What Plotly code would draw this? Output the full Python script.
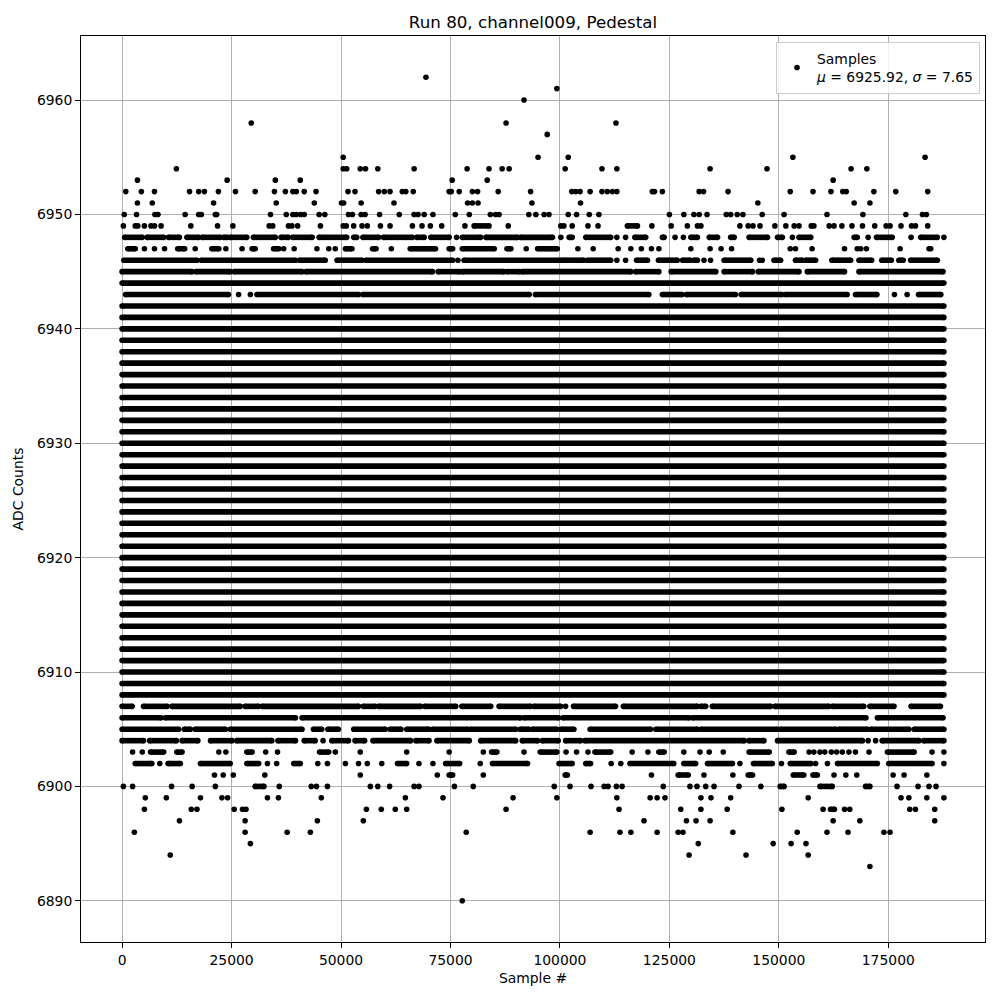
import plotly.graph_objects as go

# ---------------- data ----------------
n_samples = 187700          # number of samples in the run
mean_adc = 6925.92
sigma_adc = 7.65

x_ticks = [0, 25000, 50000, 75000, 100000, 125000, 150000, 175000]
y_ticks = [6890, 6900, 6910, 6920, 6930, 6940, 6950, 6960]

# ADC levels that are filled over the whole run
dense_levels = [6908, 6909, 6910, 6911, 6912, 6913, 6914, 6915, 6916, 6917,
                6918, 6919, 6920, 6921, 6922, 6923, 6924, 6925, 6926, 6927,
                6928, 6929, 6930, 6931, 6932, 6933, 6934, 6935, 6936, 6937,
                6938, 6939, 6940, 6941, 6942, 6944]

# Remaining levels: sample index in thousands.
# a single number = isolated sample, [a, b] = run of consecutive samples
row_6962 = [69.4]
row_6961 = [99.3]
row_6960 = [91.8]
row_6958 = [29.5, 87.7, 112.8]
row_6957 = [97.1]
row_6955 = [50.5, 95.0, 101.9, 153.2, 183.4]
row_6954 = [12.4, 50.5, 51.3, 54.4, 55.6, 58.4, 66.7, 78.8, 83.8, 86.8, 88.4,
            101.2, 109.6, 113.0, 134.3, 147.3, 166.5, 170.1]
row_6953 = [3.5, 24.0, 35.0, 40.7, 75.4, 83.4, 162.4]
row_6952 = [0.84, 4.4, 7.4, 15.4, 17.5, 18.8, 22.0, 25.9, 30.4, 34.8, 37.3, 39.0,
            39.8, 41.6, 44.3, 51.6, 53.2, 58.6, 59.9, 61.2, 64.0, 64.8, 66.5,
            74.7, 75.2, 77.0, 80.0, 81.2, 85.9, 93.3, 102.7, 103.6, 104.6, 106.9,
            109.6, 110.8, 112.0, 113.0, 121.1, 121.6, 123.4, 131.8, 132.8, 138.4,
            152.6, 157.8, 161.9, 164.6, 165.4, 171.7, 176.7, 184.0]
row_6951 = [3.5, 6.9, 20.9, 35.2, 43.9, 50.1, 50.6, 54.6, 62.1, 78.9, 80.0, 81.3,
            93.6, 104.7, 145.2, 167.2, 170.8]
row_6950 = [0.5, 3.3, 7.5, 8.2, 14.4, 17.5, 18.1, 21.3, 21.6, 33.9, 37.5, 39.0,
            39.8, 40.8, 41.6, 45.0, 46.3, 51.7, 52.6, 54.6, 55.5, 58.8, 63.3,
            66.7, 67.6, 69.0, 71.0, 76.1, 79.3, 84.1, 85.3, 86.1, 92.9, 94.5,
            96.4, 97.5, 101.9, 103.8, 106.7, 108.9, 125.0, 128.3, 130.6, 131.8,
            133.6, 138.0, 139.0, 140.5, 141.8, 146.2, 151.2, 161.0, 169.2, 179.0,
            182.8, 183.7]
row_6949 = [0.3, 3.0, 3.6, 5.1, 6.6, 7.4, 8.9, 15.7, 21.8, 25.3, 33.6, 34.4, 38.0,
            38.8, 40.1, 45.3, 50.5, 51.2, 52.9, 54.8, 56.0, 59.0, 61.2, 66.3,
            68.5, 70.4, 73.0, 78.3, [80.4, 83.8], 88.2, 100.2, 100.9, 102.8,
            106.4, 108.7, [115.4, 117.7], 121.0, 125.4, 129.1, 131.4, 132.2,
            141.1, 143.0, 144.1, 145.7, 149.1, 151.6, 153.5, 154.6, 157.4, 158.0,
            161.5, 162.6, 164.4, 166.7, 169.1, 171.9, 174.5, 175.4, 177.9, 180.3,
            181.2, 184.0]
row_6948 = [[0.6, 4.6], [5.7, 9.5], [10.6, 13.1], [14.8, 17.5], [18.3, 22.4],
            [23.2, 24.0], [24.7, 28.5], [30.0, 35.0], [36.3, 38.0], [39.0, 43.4],
            [45.0, 51.3], [52.9, 53.6], [55.0, 58.6], [59.7, 66.3], [67.3, 69.0],
            [70.5, 74.7], 76.4, [77.7, 81.9], [83.1, 90.3], [91.0, 98.3], 100.2,
            [102.1, 102.8], [105.9, 111.6], 113.0, 115.0, [117.1, 119.6],
            [123.4, 123.8], 126.3, 128.2, [129.9, 131.4], [134.1, 136.0],
            [139.0, 139.8], [143.2, 147.4], [149.7, 150.8], 153.1, [154.6, 157.3],
            [167.2, 167.9], 170.4, [172.3, 175.9], 180.2, [182.4, 186.2], 187.7]
row_6947 = [[1.3, 3.0], 5.1, 7.4, 9.7, [12.7, 14.3], 16.7, [20.5, 22.1], 23.7,
            27.4, [29.7, 30.4], [34.6, 35.8], 36.9, 39.3, 44.5, 47.2, 48.7,
            [51.0, 52.5], [57.2, 58.0], 61.5, [65.8, 71.6], [74.7, 75.5],
            [77.7, 85.0], [87.9, 88.8], 92.3, [94.9, 99.4], 104.1, 107.6, 113.3,
            116.2, 118.6, 120.9, 122.6, 129.9, 134.3, 136.8, 139.2, 152.6, 153.8,
            157.6, 165.0, 167.9, 168.7, 170.0, 177.7, 184.3, 184.7]
row_6946 = [[0.4, 17.1], [18.1, 39.6], [40.5, 46.4], [49.1, 54.8], [55.7, 75.5],
            76.7, [78.1, 100.6], [101.0, 105.5], [106.3, 111.6], 113.0, 115.0,
            [117.5, 120.0], [122.5, 126.8], [128.0, 129.8], [130.6, 131.4], 132.9,
            134.4, [137.5, 143.6], 145.6, 146.2, [148.9, 150.4], [153.8, 155.4],
            [156.1, 158.4], [162.1, 162.7], [163.2, 166.4], [168.3, 171.2],
            [173.5, 175.7], [177.4, 178.4], [180.1, 186.2]]
row_6945 = [[0.0, 16.0], [16.9, 24.7], [25.6, 41.1], [42.0, 70.9], [72.2, 77.0],
            [77.7, 87.2], [88.0, 90.7], [91.4, 116.2], [117.3, 122.6],
            [125.4, 135.6], [137.5, 144.0], [145.3, 154.6], [156.5, 165.0],
            [168.3, 187.5]]
row_6943 = [[0.8, 24.3], 26.6, 29.3, [30.8, 54.0], [55.0, 93.0], [94.4, 120.3],
            [123.4, 127.9], [128.9, 140.1], [141.4, 150.7], [151.5, 165.6],
            [167.5, 172.4], 176.4, 179.3, [181.9, 187.0]]
row_6907 = [[0.0, 2.3], [4.9, 10.3], [11.4, 27.0], [28.1, 31.2], [32.0, 54.0],
            [55.1, 57.8], [58.6, 68.2], [69.1, 76.2], [77.6, 84.2], [86.1, 93.3],
            [94.1, 100.2], 101.3, [103.1, 112.7], [114.5, 131.4], [132.2, 133.3],
            [134.8, 148.1], [149.1, 161.4], [162.2, 169.4], [170.8, 176.3],
            [180.2, 186.9]]
row_6906 = [[0.0, 8.9], [9.9, 39.6], [41.1, 91.0], [91.8, 99.7], [100.7, 129.5],
            [130.3, 169.9], [172.5, 187.5]]
row_6905 = [[0.0, 12.9], [14.2, 15.6], [16.7, 23.6], [24.7, 41.1], [43.7, 45.6],
            [47.0, 49.4], [52.9, 60.1], [61.2, 63.7], [65.0, 70.1], [70.9, 78.9],
            [79.5, 89.9], [90.9, 92.9], [93.7, 99.3], [100.2, 103.2],
            [106.9, 120.7], [121.9, 131.4], [132.2, 149.7], [150.4, 163.0],
            [163.7, 170.2], [171.0, 179.7], [180.9, 187.7]]
row_6904 = [[0.0, 4.9], [6.3, 12.4], [13.7, 17.3], [20.2, 25.1], [26.2, 34.2],
            [35.6, 39.6], [41.6, 44.1], 45.9, [47.9, 51.7], [53.2, 55.4],
            [57.3, 65.9], [67.1, 70.1], [71.9, 79.3], [81.9, 89.9], [91.4, 94.9],
            [96.0, 99.6], [101.3, 104.7], [105.7, 142.1], [143.2, 146.6],
            [149.7, 169.1], 170.4, 172.1, [173.6, 182.0], [183.1, 187.7]]
row_6903 = [2.4, 4.6, [6.5, 9.5], [12.5, 13.7], 22.1, 23.7, [28.5, 29.7], 32.8,
            35.5, [45.1, 47.2], 48.7, 54.4, 65.0, 74.7, 82.5, [84.4, 85.6], 91.8,
            [95.5, 99.3], 101.4, 103.8, 106.4, [108.0, 111.6], 116.5, 120.1,
            [122.6, 123.8], 128.3, 132.0, 134.1, 137.3, [143.2, 147.8],
            [152.3, 153.5], 156.9, 158.0, 159.4, 160.5, 162.0, 163.2, 164.5,
            166.0, 167.5, 170.6, [174.8, 180.9], 185.0, 187.7]
row_6902 = [[3.0, 6.8], 8.6, [10.5, 13.3], [17.9, 24.7], [28.5, 31.2], 33.2, 35.3,
            [39.2, 40.7], 44.7, 46.9, 51.0, 54.0, 56.0, 59.3, [62.9, 65.0], 67.8,
            71.0, [73.9, 77.1], 81.8, [84.6, 92.6], [99.8, 102.8], [105.9, 107.0],
            111.7, 113.9, [116.0, 126.0], [128.3, 131.0], [133.7, 139.4], 141.1,
            [144.2, 148.5], 150.6, [152.6, 157.3], 158.4, 161.1, [163.4, 172.5],
            [175.1, 185.0], 187.7]
row_6901 = [21.1, 23.1, 25.4, 32.6, 54.4, 72.0, [74.7, 75.5], 82.5,
            [101.2, 101.7], 120.9, [127.0, 129.3], 132.9, 139.5, [143.0, 144.0],
            [153.3, 155.7], [157.8, 158.8], 162.6, 165.3, 167.8, 176.1, 178.6,
            183.8]
row_6900 = [0.3, 2.4, 11.3, 16.0, 21.3, [30.4, 32.4], 35.9, 43.2, 44.4, 46.9,
            56.7, 58.4, 61.1, 66.7, 67.8, 75.9, 80.2, 98.7, 102.3, 107.1, 110.1,
            111.0, 112.9, 114.2, 123.6, 129.7, 131.3, 133.3, 135.2, 140.9, 145.9,
            [150.3, 151.2], [159.4, 162.2], [169.8, 170.8], 177.0, 181.8, 184.3,
            185.9]
row_6899 = [5.3, 10.1, 17.9, 22.8, 24.1, 33.2, 35.7, 45.5, 64.7, 73.3, 89.3,
            99.3, 113.0, 120.6, 122.2, 124.0, 132.2, 134.5, 139.0, 156.7, 177.9,
            179.7, 183.8, 187.7]
row_6898 = [5.1, 15.8, 17.1, 25.6, 27.5, 28.3, 55.8, 59.2, 62.4, 65.0, 87.7,
            113.5, 127.6, 132.2, 138.2, 150.7, 160.1, [161.8, 162.7], 165.0,
            166.2, 179.9, 181.2, 185.6]
row_6897 = [13.1, 28.1, 44.6, 55.1, 119.2, 128.9, 131.1, 134.3, 162.4, 168.5,
            185.6]
row_6896 = [2.8, 28.1, 37.7, 43.0, 78.6, 106.9, 113.7, 116.2, 122.2, 127.0,
            128.1, 139.5, 154.2, 161.0, 165.8, 174.0, 175.4]
row_6895 = [29.3, 131.6, 148.7, 152.8, 156.2]
row_6894 = [11.0, 129.5, 142.5, 156.7]
row_6893 = [170.8]
row_6890 = [77.7]

# table built from the rows above
sparse_rows = {
    6962: row_6962, 6961: row_6961, 6960: row_6960, 6958: row_6958,
    6957: row_6957, 6955: row_6955, 6954: row_6954, 6953: row_6953,
    6952: row_6952, 6951: row_6951, 6950: row_6950, 6949: row_6949,
    6948: row_6948, 6947: row_6947, 6946: row_6946, 6945: row_6945,
    6943: row_6943, 6907: row_6907, 6906: row_6906, 6905: row_6905,
    6904: row_6904, 6903: row_6903, 6902: row_6902, 6901: row_6901,
    6900: row_6900, 6899: row_6899, 6898: row_6898, 6897: row_6897,
    6896: row_6896, 6895: row_6895, 6894: row_6894, 6893: row_6893,
    6890: row_6890,
}

# ---------------- build marks ----------------
run_x, run_y = [], []   # runs of consecutive samples (drawn as thick lines)
pt_x, pt_y = [], []     # individual samples / run ends

for lvl in dense_levels:
    a, b = 0, n_samples - 1
    run_x += [a, b, None]
    run_y += [lvl, lvl, None]
    pt_x += [a, b]
    pt_y += [lvl, lvl]

for lvl, items in sparse_rows.items():
    for it in items:
        if isinstance(it, list):
            a, b = it[0] * 1000, it[1] * 1000
            run_x += [a, b, None]
            run_y += [lvl, lvl, None]
            pt_x += [a, b]
            pt_y += [lvl, lvl]
        else:
            pt_x.append(it * 1000)
            pt_y.append(lvl)

DOT = 5.6
FONT = "DejaVu Sans"

fig = go.Figure()
fig.add_trace(go.Scatter(
    x=run_x, y=run_y, mode="lines", connectgaps=False,
    line=dict(color="black", width=DOT), showlegend=False, hoverinfo="skip"))
fig.add_trace(go.Scatter(
    x=pt_x, y=pt_y, mode="markers",
    marker=dict(color="black", size=DOT, line=dict(width=0)),
    name=f"Samples<br><i>μ</i> = {mean_adc:.2f}, <i>σ</i> = {sigma_adc:.2f}"))

x_lo, x_hi = -0.05 * n_samples, 1.05 * n_samples
y_lo, y_hi = 6890 - 0.05 * 72, 6962 + 0.05 * 72

axis_common = dict(
    showline=True, linecolor="black", linewidth=1.1, mirror=True,
    ticks="outside", ticklen=4.9, tickwidth=1.1, tickcolor="black",
    showgrid=True, gridcolor="#b0b0b0", gridwidth=1.1, zeroline=False,
    automargin=False,
    tickfont=dict(family=FONT, size=13.9, color="black"),
)

fig.update_layout(
    width=1000, height=1000, autosize=False,
    paper_bgcolor="white", plot_bgcolor="white",
    margin=dict(l=73, r=23, t=28, b=66),
    font=dict(family=FONT, color="black"),
    title=dict(text="Run 80, channel009, Pedestal", x=0.525, xanchor="center",
               y=0.986, yanchor="middle",
               font=dict(family=FONT, size=16.7, color="black")),
    xaxis=dict(range=[x_lo, x_hi], tickvals=x_ticks,
               ticktext=[str(v) for v in x_ticks],
               title=dict(text="Sample #", standoff=6,
                          font=dict(family=FONT, size=13.9, color="black")),
               **axis_common),
    yaxis=dict(range=[y_lo, y_hi], tickvals=y_ticks,
               ticktext=[str(v) for v in y_ticks],
               title=dict(text="ADC Counts", standoff=10,
                          font=dict(family=FONT, size=13.9, color="black")),
               **axis_common),
    legend=dict(x=0.9945, y=0.9934, xanchor="right", yanchor="top",
                bgcolor="rgba(255,255,255,0.8)", bordercolor="#cccccc",
                borderwidth=1, font=dict(family=FONT, size=13.9, color="black")),
    showlegend=True,
)

fig.write_html("out.html")
